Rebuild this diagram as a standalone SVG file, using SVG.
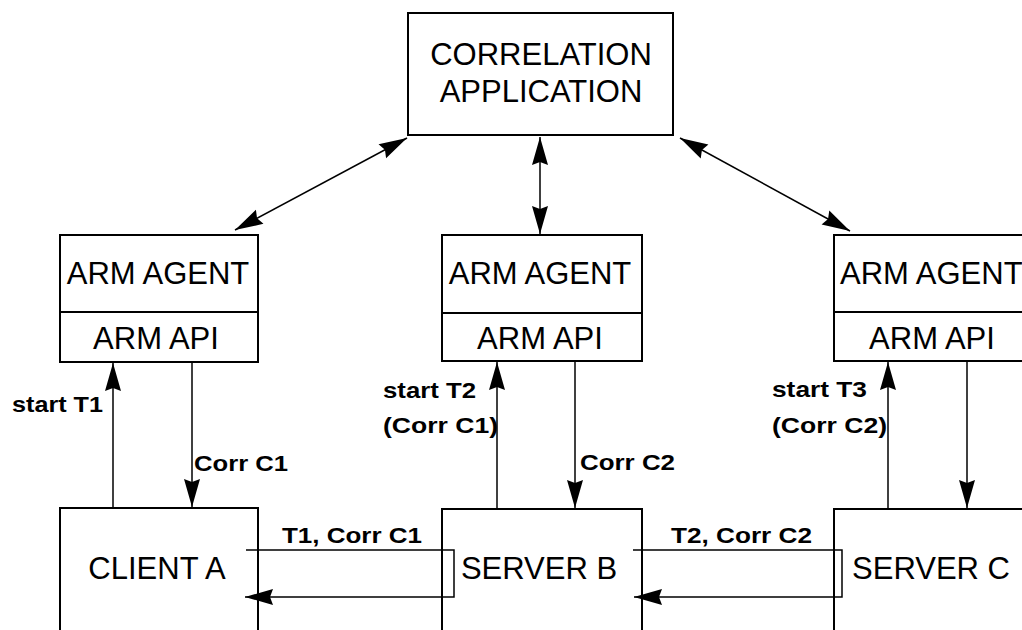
<svg xmlns="http://www.w3.org/2000/svg" width="1022" height="630" viewBox="0 0 1022 630">
  <style>
    .box { fill: #ffffff; stroke: #000000; stroke-width: 2; }
    .div { stroke: #000000; stroke-width: 2; }
    .t { font-family: "Liberation Sans", Arial, sans-serif; font-size: 31px; fill: #000000; text-anchor: middle; }
    .lbl { font-family: "Liberation Sans", Arial, sans-serif; font-size: 22px; font-weight: bold; fill: #000000; }
    .c { fill: none; stroke: #000000; stroke-width: 1.5; }
  </style>
  <defs>
    <marker id="ah" markerUnits="userSpaceOnUse" viewBox="-30 -10 32 20" refX="0" refY="0" markerWidth="32" markerHeight="20" orient="auto-start-reverse">
      <path d="M0,0 L-28,-8 L-25,0 L-28,8 Z" fill="#000000"/>
    </marker>
  </defs>
  <rect width="1022" height="630" fill="#ffffff"/>

  <g id="correlation">
    <rect class="box" x="408" y="13" width="265" height="122"/>
    <text class="t" x="541" y="65">CORRELATION</text>
    <text class="t" x="541" y="102">APPLICATION</text>
  </g>

  <g id="agent-a">
    <rect class="box" x="60" y="235" width="198" height="127"/>
    <line class="div" x1="60" y1="312" x2="258" y2="312"/>
    <text class="t" x="158" y="284">ARM AGENT</text>
    <text class="t" x="156" y="349">ARM API</text>
  </g>

  <g id="agent-b">
    <rect class="box" x="442" y="235" width="200" height="126"/>
    <line class="div" x1="442" y1="313" x2="642" y2="313"/>
    <text class="t" x="540" y="284">ARM AGENT</text>
    <text class="t" x="540" y="349">ARM API</text>
  </g>

  <g id="agent-c">
    <rect class="box" x="834" y="235" width="200" height="126"/>
    <line class="div" x1="834" y1="312" x2="1034" y2="312"/>
    <text class="t" x="840" y="284" style="text-anchor:start">ARM AGENT</text>
    <text class="t" x="932" y="349">ARM API</text>
  </g>

  <g id="client-a">
    <rect class="box" x="60" y="508" width="198" height="140"/>
    <text class="t" x="157" y="579">CLIENT A</text>
  </g>

  <g id="server-b">
    <rect class="box" x="442" y="509" width="200" height="140"/>
    <text class="t" x="539" y="579">SERVER B</text>
  </g>

  <g id="server-c">
    <rect class="box" x="834" y="509" width="200" height="140"/>
    <text class="t" x="931" y="579">SERVER C</text>
  </g>

  <g id="connectors">
    <line class="c" x1="235" y1="230" x2="407" y2="138" marker-start="url(#ah)" marker-end="url(#ah)"/>
    <line class="c" x1="540" y1="137" x2="540" y2="234" marker-start="url(#ah)" marker-end="url(#ah)"/>
    <line class="c" x1="680" y1="138" x2="850" y2="231" marker-start="url(#ah)" marker-end="url(#ah)"/>

    <line class="c" x1="113" y1="508" x2="113" y2="363" marker-end="url(#ah)"/>
    <line class="c" x1="192" y1="362" x2="192" y2="507" marker-end="url(#ah)"/>
    <line class="c" x1="497" y1="509" x2="497" y2="362" marker-end="url(#ah)"/>
    <line class="c" x1="575" y1="361" x2="575" y2="508" marker-end="url(#ah)"/>
    <line class="c" x1="888" y1="509" x2="888" y2="362" marker-end="url(#ah)"/>
    <line class="c" x1="967" y1="361" x2="967" y2="508" marker-end="url(#ah)"/>

    <path class="c" d="M246,550 H454 V597 H245" marker-end="url(#ah)"/>
    <path class="c" d="M633,550 H842 V597 H634" marker-end="url(#ah)"/>
  </g>

  <g id="labels">
    <text class="lbl" x="12" y="412" textLength="91" lengthAdjust="spacingAndGlyphs">start T1</text>
    <text class="lbl" x="194" y="471" textLength="94" lengthAdjust="spacingAndGlyphs">Corr C1</text>
    <text class="lbl" x="383" y="398" textLength="93" lengthAdjust="spacingAndGlyphs">start T2</text>
    <text class="lbl" x="383" y="433" textLength="115" lengthAdjust="spacingAndGlyphs">(Corr C1)</text>
    <text class="lbl" x="580" y="470" textLength="95" lengthAdjust="spacingAndGlyphs">Corr C2</text>
    <text class="lbl" x="772" y="397" textLength="95" lengthAdjust="spacingAndGlyphs">start T3</text>
    <text class="lbl" x="772" y="433" textLength="115" lengthAdjust="spacingAndGlyphs">(Corr C2)</text>
    <text class="lbl" x="282" y="543" textLength="140" lengthAdjust="spacingAndGlyphs">T1, Corr C1</text>
    <text class="lbl" x="671" y="543" textLength="141" lengthAdjust="spacingAndGlyphs">T2, Corr C2</text>
  </g>
</svg>
